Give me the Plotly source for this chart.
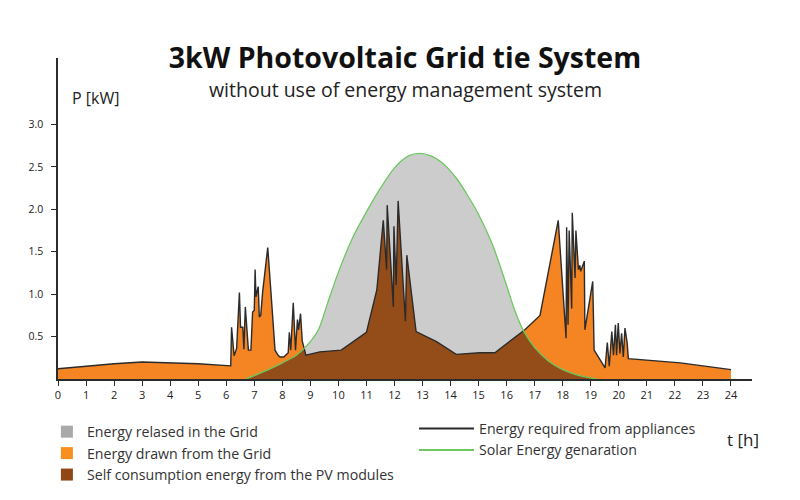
import numpy as np
import plotly.graph_objects as go

# energy required from appliances (load) [h, kW]
load_h = [0, 1, 2, 3, 4, 5, 6.16, 6.19, 6.28, 6.37, 6.47, 6.51, 6.59, 6.63, 6.68, 6.73, 6.79,
          6.88, 6.94, 7.0, 7.03, 7.06, 7.14, 7.18, 7.23, 7.30, 7.48, 7.58, 7.74, 7.85, 7.92,
          8.05, 8.15, 8.21, 8.25, 8.30, 8.39, 8.47, 8.54, 8.58, 8.65, 8.71, 8.84, 8.99, 9.34,
          10.1, 11.0, 11.37, 11.60, 11.72, 11.74, 11.96, 11.98, 12.06, 12.13, 12.39, 12.44,
          12.77, 13.5, 14.2, 15.05, 15.58, 16.65, 17.19, 17.84, 18.12, 18.14, 18.19, 18.23,
          18.32, 18.34, 18.44, 18.47, 18.56, 18.61, 18.64, 18.77, 18.79, 19.07, 19.12, 19.51,
          19.59, 19.66, 19.75, 19.81, 19.88, 19.92, 19.98, 20.04, 20.10, 20.16, 20.22, 20.30,
          20.34, 21.1, 22.2, 24.0]
load_kw = [0.12, 0.15, 0.18, 0.20, 0.19, 0.18, 0.155, 0.61, 0.275, 0.36, 1.02, 0.61, 0.61, 0.35,
           0.85, 0.62, 0.34, 0.34, 0.79, 0.81, 1.29, 0.97, 1.09, 0.73, 0.75, 1.03, 1.55, 1.09,
           0.34, 0.28, 0.26, 0.26, 0.29, 0.31, 0.55, 0.34, 0.90, 0.34, 0.70, 0.58, 0.77, 0.45,
           0.28, 0.29, 0.32, 0.34, 0.55, 1.05, 1.87, 1.29, 2.05, 0.85, 1.80, 1.11, 2.10, 0.68,
           1.46, 0.56, 0.44, 0.29, 0.31, 0.31, 0.58, 0.75, 1.87, 0.48, 1.79, 0.64, 1.75, 0.83,
           1.96, 1.19, 1.75, 1.29, 1.34, 1.27, 1.39, 0.58, 1.15, 0.34, 0.13, 0.43, 0.15, 0.56,
           0.28, 0.64, 0.28, 0.66, 0.30, 0.54, 0.26, 0.60, 0.42, 0.24, 0.22, 0.19, 0.11]

# solar energy generation [h, kW]
pv_h = [6.7, 7.0, 7.5, 8.0, 8.5, 9.0, 9.3, 9.6, 10.0, 10.5, 11.0, 11.5, 12.0, 12.5, 12.9,
        13.3, 13.7, 14.2, 14.6, 15.0, 15.5, 16.0, 16.3, 16.6, 17.0, 17.5, 18.0, 18.5, 19.2]
pv_kw = [0.0, 0.04, 0.11, 0.19, 0.28, 0.44, 0.59, 0.88, 1.26, 1.66, 1.97, 2.25, 2.49, 2.63,
         2.66, 2.63, 2.55, 2.37, 2.17, 1.94, 1.58, 1.10, 0.80, 0.57, 0.37, 0.21, 0.11, 0.05, 0.0]

hours = list(range(0, 25))
kw_ticks = [0.5, 1.0, 1.5, 2.0, 2.5, 3.0]

GREY = "#cccccc"
ORANGE = "#f58423"
BROWN = "#944d19"
GREEN = "#6cc85f"
DARK = "#2b2b2b"
FONT = "Open Sans"

# common grid for the self-consumption area (min of load and pv)
grid = np.union1d(load_h, pv_h)
ld = np.interp(grid, load_h, load_kw)
pv = np.interp(grid, pv_h, pv_kw, left=0, right=0)
xs, ys = [grid[0]], [min(ld[0], pv[0])]
for i in range(1, len(grid)):
    d0, d1 = ld[i - 1] - pv[i - 1], ld[i] - pv[i]
    if d0 * d1 < 0:
        t = d0 / (d0 - d1)
        xs.append(grid[i - 1] + t * (grid[i] - grid[i - 1]))
        ys.append(ld[i - 1] + t * (ld[i] - ld[i - 1]))
    xs.append(grid[i])
    ys.append(min(ld[i], pv[i]))

fig = go.Figure()
fig.add_trace(go.Scatter(x=pv_h, y=pv_kw, fill="tozeroy", fillcolor=GREY, mode="lines",
                         line={"width": 0, "shape": "spline", "smoothing": 0.8},
                         showlegend=False, hoverinfo="skip"))
fig.add_trace(go.Scatter(x=load_h, y=load_kw, fill="tozeroy", fillcolor=ORANGE, mode="none",
                         showlegend=False, hoverinfo="skip"))
fig.add_trace(go.Scatter(x=xs, y=ys, fill="tozeroy", fillcolor=BROWN, mode="none",
                         showlegend=False, hoverinfo="skip"))
fig.add_trace(go.Scatter(x=load_h, y=load_kw, mode="lines", line={"color": DARK, "width": 1.4},
                         showlegend=False))
fig.add_trace(go.Scatter(x=pv_h, y=pv_kw, mode="lines",
                         line={"color": GREEN, "width": 1.3, "shape": "spline", "smoothing": 0.8},
                         showlegend=False))

# legend entries: filled areas on the left, lines on the right
area_items = [
    ("Energy relased in the Grid", "#a9a9a9"),
    ("Energy drawn from the Grid", "#f7901e"),
    ("Self consumption energy from the PV modules", "#8f4716"),
]
line_items = [
    ("Energy required from appliances", DARK),
    ("Solar Energy genaration", GREEN),
]
for name, color in area_items:
    fig.add_trace(go.Scatter(x=[None], y=[None], mode="markers", name=name, legend="legend",
                             marker={"symbol": "square", "size": 12, "color": color}))
for name, color in line_items:
    fig.add_trace(go.Scatter(x=[None], y=[None], mode="lines", name=name, legend="legend2",
                             line={"color": color, "width": 2}))

# the page puts the figure 8px in from the window edge
fig.update_layout(
    width=792,
    height=492,
    margin={"l": 50, "r": 48, "t": 50, "b": 121, "autoexpand": False},
    plot_bgcolor="white",
    paper_bgcolor="white",
    font={"family": FONT, "color": "#222"},
    title={
        "text": "<b>3kW Photovoltaic Grid tie System</b>",
        "x": 0.5,
        "xanchor": "center",
        "xref": "paper",
        "y": 0.898,
        "yanchor": "middle",
        "font": {"size": 28.5, "color": "#111"},
    },
    legend={
        "orientation": "v",
        "x": -0.016,
        "xanchor": "left",
        "y": -0.115,
        "yanchor": "top",
        "font": {"size": 14.2, "color": "#333"},
        "itemwidth": 30,
        "tracegroupgap": 0,
    },
    legend2={
        "orientation": "v",
        "x": 0.513,
        "xanchor": "left",
        "y": -0.105,
        "yanchor": "top",
        "font": {"size": 14.2, "color": "#333"},
        "itemwidth": 55,
        "tracegroupgap": 0,
    },
    xaxis={
        "range": [0, 24.75],
        "tickvals": hours,
        "ticks": "outside",
        "ticklen": 5,
        "tickcolor": DARK,
        "showline": True,
        "linecolor": DARK,
        "linewidth": 1.5,
        "showgrid": False,
        "zeroline": False,
        "tickfont": {"size": 11},
    },
    yaxis={
        "range": [0, 3.785],
        "tickvals": kw_ticks,
        "ticktext": [f"{v:.1f}" for v in kw_ticks],
        "ticks": "outside",
        "ticklen": 5,
        "tickcolor": DARK,
        "ticklabelstandoff": 6,
        "showline": True,
        "linecolor": DARK,
        "linewidth": 1.5,
        "showgrid": False,
        "zeroline": False,
        "tickfont": {"size": 10.5},
    },
)

# subtitle, axis arrows and labels
fig.add_annotation(x=0.5, y=0.903, xref="paper", yref="paper", xanchor="center",
                   yanchor="middle", text="without use of energy management system",
                   showarrow=False, font={"size": 19.5, "color": "#222"})
fig.add_annotation(x=24.85, y=0, ax=-14, ay=0, showarrow=True, arrowhead=2, arrowsize=1,
                   arrowwidth=1.5, arrowcolor=DARK, text="")
fig.add_annotation(x=0, y=3.86, ax=0, ay=14, showarrow=True, arrowhead=2, arrowsize=1,
                   arrowwidth=1.5, arrowcolor=DARK, text="")
fig.add_annotation(x=0.017, y=0.875, xref="paper", yref="paper", xanchor="left",
                   yanchor="middle", text="P [kW]", showarrow=False,
                   font={"size": 16, "color": "#222"})
fig.add_annotation(x=0.961, y=-0.19, xref="paper", yref="paper", xanchor="left",
                   yanchor="middle", text="t [h]", showarrow=False,
                   font={"size": 17, "color": "#222"})

fig.write_html("out.html")
